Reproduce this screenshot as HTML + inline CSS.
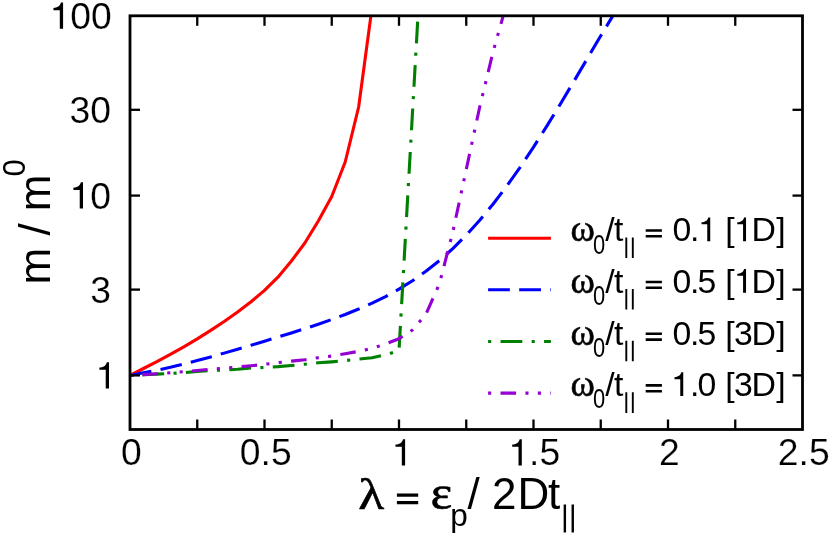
<!DOCTYPE html>
<html><head><meta charset="utf-8"><title>chart</title>
<style>
html,body{margin:0;padding:0;background:#fff;}
svg{display:block;will-change:transform;}
text{font-family:"Liberation Sans",sans-serif;fill:#000;}
.tk text{stroke:#fff;stroke-width:0.2px;}
text.s{font-family:"Liberation Serif",serif;stroke:#000;stroke-width:0.55px;stroke-linejoin:round;}
</style></head>
<body>
<svg width="830" height="536" viewBox="0 0 830 536">
<rect x="0" y="0" width="830" height="536" fill="#fff"/>
<g fill="none" stroke-width="3.1" stroke-linejoin="round">
<polyline stroke="#ff0000" points="130.00,375.40 143.45,368.50 156.90,361.70 170.35,354.40 183.80,346.80 197.25,338.90 210.70,330.40 224.15,321.50 237.60,312.10 251.05,301.80 264.50,290.40 277.95,277.20 291.40,261.00 304.85,243.00 318.30,221.00 331.75,196.50 345.20,162.00 358.65,107.00 370.97,15.40"/>
<polyline stroke="#0000ff" stroke-dasharray="21.77 9.33" points="130.00,375.40 143.45,372.66 156.90,370.22 170.35,367.34 183.80,364.11 197.25,360.61 210.70,356.93 224.15,353.12 237.60,349.21 251.05,345.24 264.50,341.21 277.95,337.11 291.40,332.94 304.85,328.65 318.30,324.19 331.75,319.50 345.20,314.49 358.65,309.06 372.10,303.12 385.55,296.52 399.00,289.12 412.45,280.78 425.90,271.32 439.35,260.62 452.80,248.58 466.25,235.14 479.70,220.26 493.15,203.96 506.60,186.29 520.05,167.31 533.50,147.14 546.95,125.95 560.40,103.94 573.85,81.36 587.30,58.53 600.75,35.81 613.10,15.40"/>
<polyline stroke="#008000" stroke-dasharray="3.11 9.33 21.77 9.33" points="130.00,375.40 143.45,374.81 156.90,374.16 170.35,373.46 183.80,372.64 197.25,371.38 210.70,370.44 224.15,370.09 237.60,369.28 251.05,368.08 264.50,367.42 277.95,366.64 291.40,365.55 304.85,364.17 318.30,362.81 331.75,361.84 345.20,360.61 358.65,359.09 372.10,357.69 385.55,354.90 399.00,350.60 417.99,15.40"/>
<polyline stroke="#9400d3" stroke-dasharray="3.11 9.33 15.55 9.33 3.11 9.33" points="130.00,375.40 143.45,374.62 156.90,373.74 170.35,372.77 183.80,371.72 197.25,370.53 210.70,369.25 224.15,368.14 237.60,367.04 251.05,365.77 264.50,364.30 277.95,362.64 291.40,361.12 304.85,359.79 318.30,357.69 331.75,356.07 345.20,353.67 358.65,351.38 372.10,348.41 385.55,343.93 399.00,338.69 412.45,330.00 425.90,314.20 439.35,284.00 452.80,232.00 466.25,169.50 479.70,107.00 493.15,51.50 503.37,15.40"/>
</g>
<g><line x1="488.1" y1="238.2" x2="550.9" y2="238.2" stroke="#ff0000" stroke-width="3.1"/><g font-size="33.8"><text x="570.6" y="241.20" class="s" font-size="37">ω</text><text x="593.1" y="253.50" font-size="27" textLength="12.2" lengthAdjust="spacingAndGlyphs">0</text><text x="605.2 613.9" y="241.20">/t</text><path d="M626.3 237.40V258.00M632.8 237.40V258.00" stroke="#000" stroke-width="1.9" fill="none"/><path d="M645.7 230.50H661.9M645.7 236.30H661.9" stroke="#000" stroke-width="2.6" fill="none"/><text x="672.5 689.9" y="241.20">0.</text><path transform="translate(698.00,241.20) scale(0.03380)" d="M362 0H274V-498H104V-560C200 -560 288 -612 304 -703H362Z" fill="#000"/><text x="725.3" y="241.20">[</text><path transform="translate(733.80,241.20) scale(0.03380)" d="M362 0H274V-498H104V-560C200 -560 288 -612 304 -703H362Z" fill="#000"/><text x="751.6 776.2" y="241.20">D]</text></g><line x1="488.1" y1="289.7" x2="550.9" y2="289.7" stroke="#0000ff" stroke-width="3.1" stroke-dasharray="21.77 9.33"/><g font-size="33.8"><text x="570.6" y="292.70" class="s" font-size="37">ω</text><text x="593.1" y="305.00" font-size="27" textLength="12.2" lengthAdjust="spacingAndGlyphs">0</text><text x="605.2 613.9" y="292.70">/t</text><path d="M626.3 288.90V309.50M632.8 288.90V309.50" stroke="#000" stroke-width="1.9" fill="none"/><path d="M645.7 282.00H661.9M645.7 287.80H661.9" stroke="#000" stroke-width="2.6" fill="none"/><text x="672.5 689.9 697.5" y="292.70">0.5</text><text x="725.3" y="292.70">[</text><path transform="translate(733.80,292.70) scale(0.03380)" d="M362 0H274V-498H104V-560C200 -560 288 -612 304 -703H362Z" fill="#000"/><text x="751.6 776.2" y="292.70">D]</text></g><line x1="488.1" y1="341.5" x2="550.9" y2="341.5" stroke="#008000" stroke-width="3.1" stroke-dasharray="3.11 9.33 21.77 9.33"/><g font-size="33.8"><text x="570.6" y="344.50" class="s" font-size="37">ω</text><text x="593.1" y="356.80" font-size="27" textLength="12.2" lengthAdjust="spacingAndGlyphs">0</text><text x="605.2 613.9" y="344.50">/t</text><path d="M626.3 340.70V361.30M632.8 340.70V361.30" stroke="#000" stroke-width="1.9" fill="none"/><path d="M645.7 333.80H661.9M645.7 339.60H661.9" stroke="#000" stroke-width="2.6" fill="none"/><text x="672.5 689.9 697.5" y="344.50">0.5</text><text x="725.3 734.1 751.6 776.2" y="344.50">[3D]</text></g><line x1="488.1" y1="393.1" x2="550.9" y2="393.1" stroke="#9400d3" stroke-width="3.1" stroke-dasharray="3.11 9.33 15.55 9.33 3.11 9.33"/><g font-size="33.8"><text x="570.6" y="396.10" class="s" font-size="37">ω</text><text x="593.1" y="408.40" font-size="27" textLength="12.2" lengthAdjust="spacingAndGlyphs">0</text><text x="605.2 613.9" y="396.10">/t</text><path d="M626.3 392.30V412.90M632.8 392.30V412.90" stroke="#000" stroke-width="1.9" fill="none"/><path d="M645.7 385.40H661.9M645.7 391.20H661.9" stroke="#000" stroke-width="2.6" fill="none"/><path transform="translate(671.00,396.10) scale(0.03380)" d="M362 0H274V-498H104V-560C200 -560 288 -612 304 -703H362Z" fill="#000"/><text x="689.9 697.6" y="396.10">.0</text><text x="725.3 734.1 751.6 776.2" y="396.10">[3D]</text></g></g>
<g stroke="#000" stroke-width="2.3" fill="none"><line x1="197.25" y1="429.5" x2="197.25" y2="419.5"/><line x1="197.25" y1="15.8" x2="197.25" y2="25.8"/><line x1="264.50" y1="429.5" x2="264.50" y2="419.5"/><line x1="264.50" y1="15.8" x2="264.50" y2="25.8"/><line x1="331.75" y1="429.5" x2="331.75" y2="419.5"/><line x1="331.75" y1="15.8" x2="331.75" y2="25.8"/><line x1="399.00" y1="429.5" x2="399.00" y2="419.5"/><line x1="399.00" y1="15.8" x2="399.00" y2="25.8"/><line x1="466.25" y1="429.5" x2="466.25" y2="419.5"/><line x1="466.25" y1="15.8" x2="466.25" y2="25.8"/><line x1="533.50" y1="429.5" x2="533.50" y2="419.5"/><line x1="533.50" y1="15.8" x2="533.50" y2="25.8"/><line x1="600.75" y1="429.5" x2="600.75" y2="419.5"/><line x1="600.75" y1="15.8" x2="600.75" y2="25.8"/><line x1="668.00" y1="429.5" x2="668.00" y2="419.5"/><line x1="668.00" y1="15.8" x2="668.00" y2="25.8"/><line x1="735.25" y1="429.5" x2="735.25" y2="419.5"/><line x1="735.25" y1="15.8" x2="735.25" y2="25.8"/><line x1="130.0" y1="109.81" x2="140.0" y2="109.81"/><line x1="802.5" y1="109.81" x2="792.5" y2="109.81"/><line x1="130.0" y1="195.59" x2="140.0" y2="195.59"/><line x1="802.5" y1="195.59" x2="792.5" y2="195.59"/><line x1="130.0" y1="289.60" x2="140.0" y2="289.60"/><line x1="802.5" y1="289.60" x2="792.5" y2="289.60"/><line x1="130.0" y1="375.38" x2="140.0" y2="375.38"/><line x1="802.5" y1="375.38" x2="792.5" y2="375.38"/></g>
<rect x="130.0" y="15.8" width="672.5" height="413.7" fill="none" stroke="#000" stroke-width="2.8"/>
<g class="tk" font-size="37.3"><text x="131.30" y="465.4" text-anchor="middle">0</text><text x="265.80" y="465.4" text-anchor="middle">0.5</text><text x="669.30" y="465.4" text-anchor="middle">2</text><text x="803.80" y="465.4" text-anchor="middle">2.5</text><path transform="translate(391.60,465.40) scale(0.03730)" d="M362 0H274V-498H104V-560C200 -560 288 -612 304 -703H362Z" fill="#000"/><path transform="translate(508.30,465.40) scale(0.03730)" d="M362 0H274V-498H104V-560C200 -560 288 -612 304 -703H362Z" fill="#000"/><text x="529.04" y="465.4">.5</text><path transform="translate(49.58,28.80) scale(0.03730)" d="M362 0H274V-498H104V-560C200 -560 288 -612 304 -703H362Z" fill="#000"/><text x="70.32" y="28.80">00</text><text x="111.00" y="122.81" text-anchor="end">30</text><path transform="translate(69.52,208.59) scale(0.03730)" d="M362 0H274V-498H104V-560C200 -560 288 -612 304 -703H362Z" fill="#000"/><text x="90.26" y="208.59">0</text><text x="111.00" y="302.60" text-anchor="end">3</text><path transform="translate(95.50,388.38) scale(0.03730)" d="M362 0H274V-498H104V-560C200 -560 288 -612 304 -703H362Z" fill="#000"/></g>
<g font-size="44"><text class="s" font-size="45" transform="translate(358.3,508.8) scale(1.19,1)">λ</text><path d="M396.9 495.15H418.2M396.9 502.55H418.2" stroke="#000" stroke-width="3.3" fill="none"/><text class="s" font-size="48" transform="translate(430.4,508.8) scale(1.08,1)">ε</text><text x="450.3" y="526.1" font-size="31.5">p</text><text x="467.5" y="508.8">/</text><text x="492 517.6 548.0" y="508.8">2Dt</text><path d="M564.85 504.6V532.6M572.75 504.6V532.6" stroke="#000" stroke-width="2.4" fill="none"/></g>
<g transform="translate(50.3,284.5) rotate(-90)"><text font-size="44" x="0" y="0">m / m</text><text font-size="31" x="108" y="-25.4">0</text></g>
</svg>
</body></html>
